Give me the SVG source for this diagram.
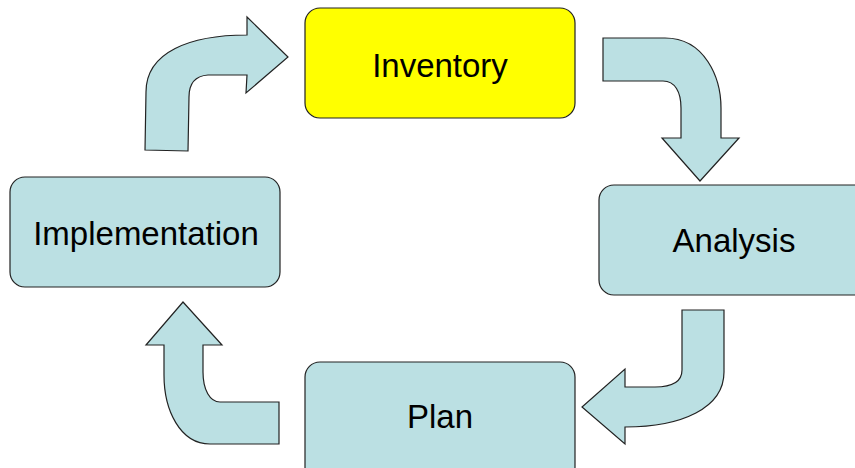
<svg xmlns="http://www.w3.org/2000/svg" width="855" height="468" viewBox="0 0 855 468">
<style>
.box{fill:#BBE0E3;stroke:#222;stroke-width:1.2}
.arr{fill:#BBE0E3;stroke:#222;stroke-width:1.2;stroke-linejoin:miter}
.lbl{font-family:"Liberation Sans",Arial,sans-serif;font-size:33px;fill:#000;text-anchor:middle}
</style>
<rect width="855" height="468" fill="#fff"/>
<g id="connectors">
<path class="arr" d="M145,150 L146,92 C146,52 190,35 247,35 L247,17 L288,57 L246,93 L247,75 L208,75 C194,76 189,84 189,97 L188,151 Z"/>
<path class="arr" d="M603,38 L665,38 C705,38 721,78 721,108 L721,138 L739,138 L700,181 L662,138 L681,138 L681,108 C681,92 675,81 663,81 L603,81 Z"/>
<path class="arr" d="M682,310 L724,310 L724,372 C724,408 682,427 625,427 L625,444 L582,407 L625,369 L625,387 L655,387 C674,387 682,381 682,370 Z"/>
<path class="arr" d="M279,444 L210,444 C180,444 164,410 164,375 L164,345 L146,345 L183,302 L222,345 L203,345 L203,372 C203,390 210,402 220,402 L279,402 Z"/>
</g>
<g id="inventory">
<rect x="305" y="8" width="270" height="110" rx="15" fill="#FFFF00" stroke="#222" stroke-width="1.2"/>
<text class="lbl" x="440" y="77">Inventory</text>
</g>
<g id="analysis">
<rect class="box" x="599" y="185" width="280" height="110" rx="15"/>
<text class="lbl" x="734" y="252">Analysis</text>
</g>
<g id="plan">
<rect class="box" x="305" y="362" width="270" height="120" rx="15"/>
<text class="lbl" x="440" y="428">Plan</text>
</g>
<g id="implementation">
<rect class="box" x="10" y="177" width="270" height="110" rx="15"/>
<text class="lbl" x="146" y="245">Implementation</text>
</g>
</svg>
